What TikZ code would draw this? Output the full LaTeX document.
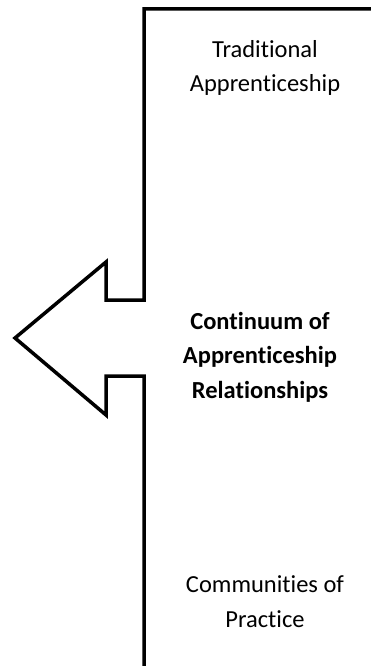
\documentclass[tikz,border=0pt]{standalone}
\usepackage{fontspec}
\setmainfont[Ligatures=NoCommon]{Carlito}
\usepackage{tikz}

\begin{document}
\begin{tikzpicture}[x=1pt, y=-1pt,
	stagetext/.style={align=center, anchor=base, inner sep=0pt, font=\fontsize{24.5}{34.5}\selectfont},
	midtext/.style={stagetext, font=\fontsize{24.5}{34.5}\selectfont\bfseries}]
	\useasboundingbox (0,0) rectangle (370,666);
	\draw[line width=3.5pt, line join=miter] (372,9) -- (144,9) -- (144,300) -- (106,300) -- (106,262) -- (15,338) -- (106,415) -- (106,376) -- (144,376) -- (144,668);
	\node[stagetext] (trad) at (265,92) {Traditional\\Apprenticeship};
	\node[midtext] (cont) at (260,398) {Continuum of\\Apprenticeship\\Relationships};
	\node[stagetext] (comm) at (265,627) {Communities of\\Practice};
\end{tikzpicture}
\end{document}
